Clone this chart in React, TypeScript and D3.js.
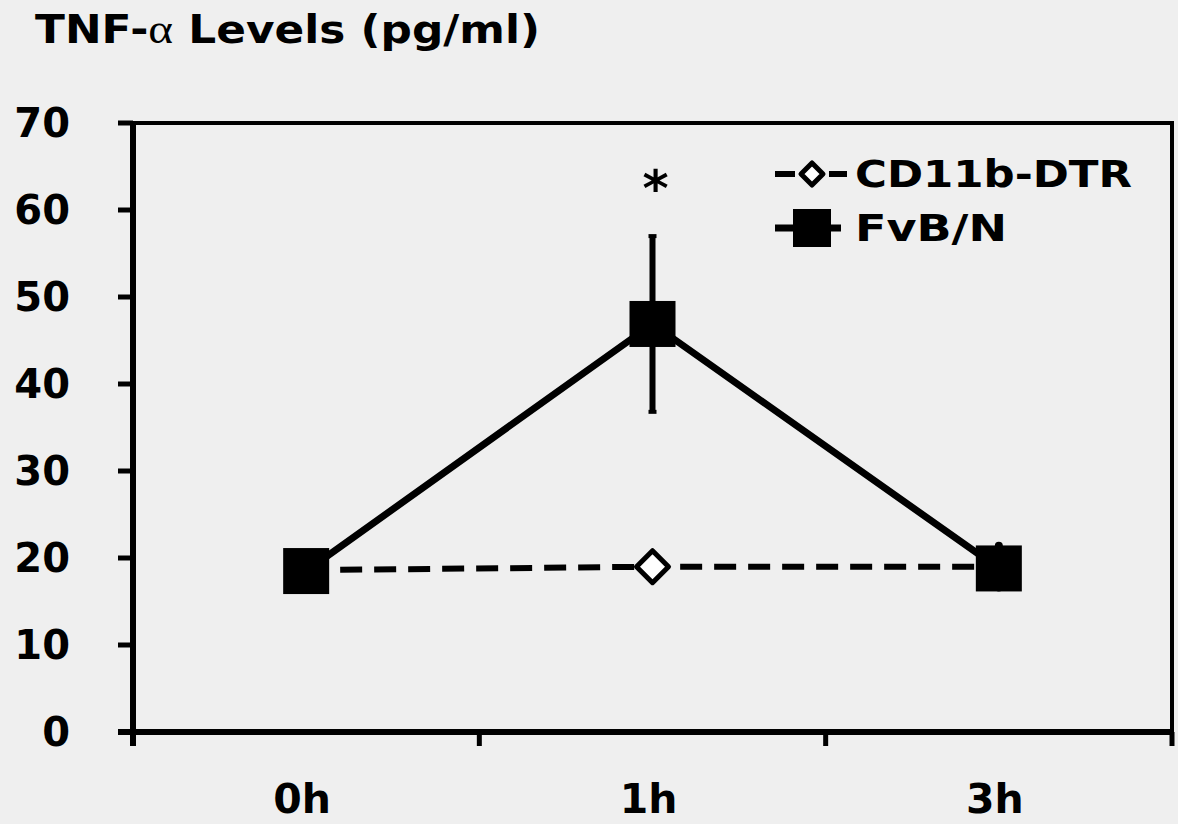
import React from 'react';
import * as d3 from 'd3';

// Time points and measured TNF-α concentrations (pg/ml)
const categories = ['0h', '1h', '3h'];
const cd11bValues = [18.6, 19.0, 19.0];
const cd11bErrors = [0, 0, 2.4];
const fvbValues = [18.5, 46.9, 18.8];
const fvbErrors = [0, 10.1, 0];
const yTicks = [0, 10, 20, 30, 40, 50, 60, 70];
const seriesNames = ['CD11b-DTR', 'FvB/N'];

const W = 1178;
const H = 824;
const FONT = '"DejaVu Sans", Verdana, sans-serif';

export default function App() {
  const left = 133, right = 1172, top = 123, bottom = 732;
  const x = d3.scaleBand<string>().domain(categories).range([left, right]);
  const y = d3.scaleLinear().domain([0, 70]).range([bottom, top]);
  const cx = (c: string) => (x(c) as number) + x.bandwidth() / 2;

  const line = d3.line<number>()
    .x((_, i) => cx(categories[i]))
    .y((d) => y(d));

  const diamond = (px: number, py: number, r: number) =>
    `M${px},${py - r}L${px + r},${py}L${px},${py + r}L${px - r},${py}Z`;

  const sq = 46;
  const dr = 16;
  const bounds = [...categories.map((c) => x(c) as number), right];

  const legendX = 775;
  const legendY = [174, 228];

  return (
    <svg width={W} height={H} style={{ position: 'absolute', left: 0, top: 0, background: '#efefef' }}
      fontFamily={FONT} fontWeight="bold">
      <rect x={0} y={0} width={W} height={H} fill="#efefef" />

      {/* Title */}
      <text x={35} y={43} fontSize={39} textLength={505} lengthAdjust="spacingAndGlyphs">
        TNF-<tspan fontFamily="'Liberation Serif', serif" fontWeight="normal" fontSize={42}>α</tspan> Levels (pg/ml)
      </text>

      {/* Plot frame */}
      <rect x={left} y={top} width={right - left} height={bottom - top} fill="none" stroke="#000" strokeWidth={4} />
      <line x1={left} x2={left} y1={top - 2} y2={bottom + 14} stroke="#000" strokeWidth={6} />
      <line x1={left - 15} x2={right + 2} y1={bottom} y2={bottom} stroke="#000" strokeWidth={6} />

      {/* Y axis ticks and labels */}
      {yTicks.map((t) => (
        <g key={t}>
          <line x1={left - 15} x2={left} y1={y(t)} y2={y(t)} stroke="#000" strokeWidth={5} />
          <text x={70} y={y(t)} fontSize={40} textAnchor="end" dominantBaseline="central">{t}</text>
        </g>
      ))}

      {/* X axis ticks at category boundaries */}
      {bounds.map((b, i) => (
        <line key={i} x1={b} x2={b} y1={bottom} y2={bottom + 14} stroke="#000" strokeWidth={5} />
      ))}
      {categories.map((c) => (
        <text key={c} x={cx(c) - 4} y={813} fontSize={41} textAnchor="middle">{c}</text>
      ))}

      {/* CD11b-DTR: dashed line with open diamonds and error bars */}
      {cd11bValues.map((v, i) => {
        const e = cd11bErrors[i];
        const px = cx(categories[i]);
        return e > 0 ? (
          <line key={i} x1={px} x2={px} y1={y(v + e)} y2={y(v - e)} stroke="#000" strokeWidth={8} strokeLinecap="round" />
        ) : null;
      })}
      <path d={line(cd11bValues) as string} fill="none" stroke="#000" strokeWidth={6} strokeDasharray="22 12" />
      {cd11bValues.map((v, i) => (
        <path key={i} d={diamond(cx(categories[i]), y(v), dr)} fill="#fff" stroke="#000" strokeWidth={5} strokeLinejoin="round" />
      ))}

      {/* FvB/N: solid line with filled squares and error bars */}
      <path d={line(fvbValues) as string} fill="none" stroke="#000" strokeWidth={7} />
      {fvbValues.map((v, i) => {
        const px = cx(categories[i]);
        const e = fvbErrors[i];
        return (
          <g key={i}>
            {e > 0 && (
              <>
                <line x1={px} x2={px} y1={y(v + e)} y2={y(v - e)} stroke="#000" strokeWidth={6} />
                <line x1={px - 4} x2={px + 4} y1={y(v + e)} y2={y(v + e)} stroke="#000" strokeWidth={4} />
                <line x1={px - 4} x2={px + 4} y1={y(v - e)} y2={y(v - e)} stroke="#000" strokeWidth={4} />
              </>
            )}
            <rect x={px - sq / 2} y={y(v) - sq / 2} width={sq} height={sq} fill="#000" />
          </g>
        );
      })}

      {/* Significance marker */}
      <text x={cx('1h') + 3} y={y(fvbValues[1] + fvbErrors[1]) - 30} fontSize={50} textAnchor="middle">*</text>

      {/* Legend */}
      <line x1={legendX} x2={legendX + 20} y1={legendY[0]} y2={legendY[0]} stroke="#000" strokeWidth={6} />
      <line x1={legendX + 54} x2={legendX + 72} y1={legendY[0]} y2={legendY[0]} stroke="#000" strokeWidth={6} />
      <path d={diamond(legendX + 37, legendY[0], 11)} fill="#fff" stroke="#000" strokeWidth={5} strokeLinejoin="round" />
      <text x={legendX + 80} y={legendY[0]} fontSize={37} dominantBaseline="central" textLength={277} lengthAdjust="spacingAndGlyphs">{seriesNames[0]}</text>

      <line x1={legendX} x2={legendX + 66} y1={legendY[1]} y2={legendY[1]} stroke="#000" strokeWidth={7} />
      <rect x={legendX + 37 - 19} y={legendY[1] - 19} width={38} height={38} fill="#000" />
      <text x={legendX + 80} y={legendY[1]} fontSize={37} dominantBaseline="central" textLength={152} lengthAdjust="spacingAndGlyphs">{seriesNames[1]}</text>
    </svg>
  );
}
